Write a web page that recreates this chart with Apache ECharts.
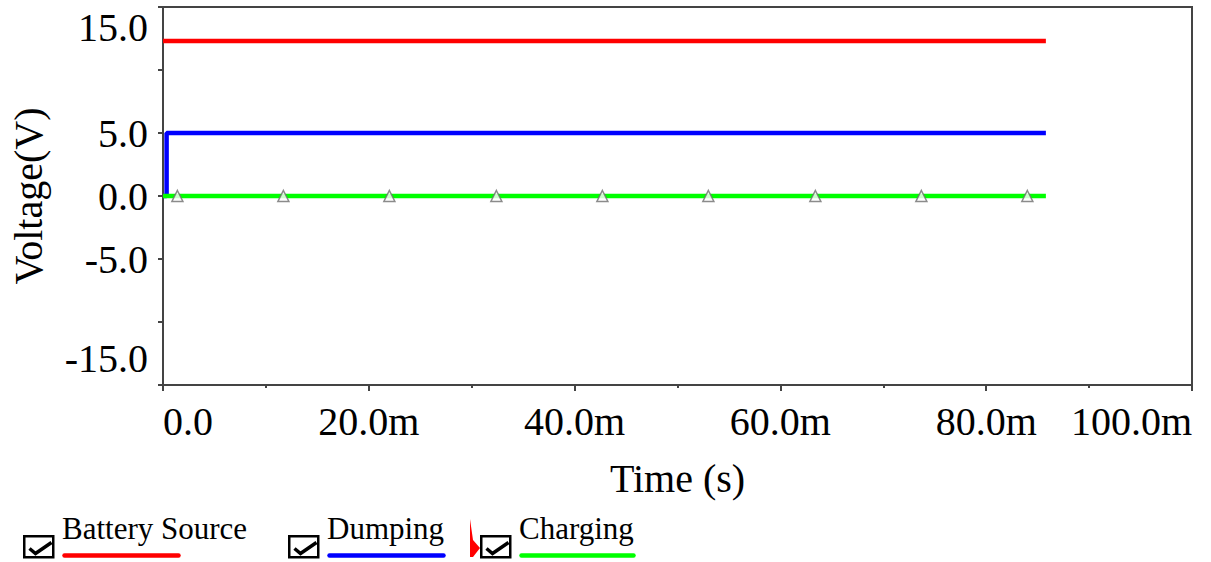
<!DOCTYPE html>
<html>
<head>
<meta charset="utf-8">
<title>Voltage vs Time</title>
<script src="https://cdn.jsdelivr.net/npm/echarts@6/dist/echarts.min.js"></script>
<style>
    html, body { margin: 0; padding: 0; background: #fff; }
    #chart { width: 1211px; height: 562px; }
</style>
</head>
<body>
<div id="chart"></div>
<script>
    // time in ms (axis labels carry the "m" suffix)
    var seriesNames = ['Battery Source', 'Dumping', 'Charging'];
    var seriesColors = ['#ff0000', '#0000ff', '#00ff00'];
    var batteryData = [[0, 12.3], [85.8, 12.3]];
    var dumpingData = [[0, 0], [0.35, 0], [0.35, 5.0], [85.8, 5.0]];
    var chargingData = [[0, 0], [85.8, 0]];
    // grey triangle markers sitting on the charging trace
    var markerTimes = [1.4, 11.7, 22.0, 32.4, 42.7, 53.0, 63.4, 73.7, 84.0];
    var markerValues = [0, 0, 0, 0, 0, 0, 0, 0, 0];
    var yHiddenLabels = [10, -10];

    var serif = '"Liberation Serif", "Times New Roman", serif';
    var chart = echarts.init(document.getElementById('chart'), null, {renderer: 'svg'});

    var markerData = markerTimes.map(function (t, i) { return [t, markerValues[i]]; });
    var lineData = [batteryData, dumpingData, chargingData];

    var series = seriesNames.map(function (name, i) {
        return {
            name: name,
            type: 'line',
            data: lineData[i],
            showSymbol: false,
            symbol: 'none',
            animation: false,
            lineStyle: {color: seriesColors[i], width: 4.5},
            itemStyle: {color: seriesColors[i]},
            z: 2 + i
        };
    });
    series.push({
        name: 'markers',
        type: 'scatter',
        data: markerData,
        symbol: 'triangle',
        symbolSize: [11, 11],
        animation: false,
        itemStyle: {color: '#ffffff', borderColor: '#6e6e6e', borderWidth: 1.5},
        z: 6
    });

    // legend: checkbox, name, coloured underline
    var legendX = [23, 288, 480];
    var underlineW = [114, 114, 112];
    var graphics = [];
    seriesNames.forEach(function (name, i) {
        var x = legendX[i];
        graphics.push({
            type: 'rect', left: x, top: 535,
            shape: {width: 29, height: 21},
            style: {fill: '#fff', stroke: '#000', lineWidth: 2.5}
        });
        graphics.push({
            type: 'polyline', left: x + 4, top: 540,
            shape: {points: [[0, 7], [6, 12], [22, 1]]},
            style: {fill: null, stroke: '#000', lineWidth: 3.5}
        });
        graphics.push({
            type: 'text', left: x + 39, top: 513,
            style: {text: name, fill: '#000', fontFamily: serif, fontSize: 31}
        });
        graphics.push({
            type: 'line', left: x + 39, top: 553,
            shape: {x1: 0, y1: 0, x2: underlineW[i], y2: 0},
            style: {stroke: seriesColors[i], lineWidth: 4.5, lineCap: 'round'}
        });
    });
    // small red sliver before the third checkbox
    graphics.push({
        type: 'polygon',
        shape: {points: [[470, 519], [473, 540], [480, 548], [473, 557], [470, 557]]},
        style: {fill: '#ff0000'}
    });

    var option = {
        backgroundColor: '#fff',
        animation: false,
        grid: {
            left: 163, top: 7, width: 1029, height: 378,
            show: true, borderColor: '#444', borderWidth: 2, backgroundColor: 'transparent'
        },
        xAxis: {
            type: 'value',
            min: 0, max: 100, interval: 20,
            name: 'Time (s)',
            nameLocation: 'middle',
            nameGap: 73,
            nameTextStyle: {fontFamily: serif, fontSize: 40, color: '#000'},
            axisLine: {show: true, onZero: false, lineStyle: {color: '#444', width: 2}},
            axisTick: {show: true, length: 6, lineStyle: {color: '#444', width: 2}},
            minorTick: {show: true, splitNumber: 2, length: 3, lineStyle: {color: '#444', width: 2}},
            splitLine: {show: false},
            axisLabel: {
                margin: 16,
                fontFamily: serif, fontSize: 40, color: '#000',
                alignMinLabel: 'left', alignMaxLabel: 'right',
                formatter: function (v) { return v === 0 ? '0.0' : v.toFixed(1) + 'm'; }
            }
        },
        yAxis: {
            type: 'value',
            min: -15, max: 15, interval: 5,
            name: 'Voltage(V)',
            nameLocation: 'middle',
            nameGap: 115,
            nameTextStyle: {fontFamily: serif, fontSize: 40, color: '#000'},
            axisLine: {show: true, onZero: false, lineStyle: {color: '#444', width: 2}},
            axisTick: {show: true, length: 5, lineStyle: {color: '#444', width: 2}},
            splitLine: {show: false},
            axisLabel: {
                margin: 15,
                fontFamily: serif, fontSize: 40, color: '#000',
                verticalAlignMinLabel: 'bottom', verticalAlignMaxLabel: 'top',
                formatter: function (v) {
                    if (yHiddenLabels.indexOf(v) >= 0) return '';
                    return v === -15 ? '{lo|' + v.toFixed(1) + '}' : v.toFixed(1);
                },
                rich: {
                    lo: {fontFamily: serif, fontSize: 40, color: '#000', padding: [0, 0, 7, 0]}
                }
            }
        },
        series: series,
        graphic: graphics
    };
    chart.setOption(option);
</script>
</body>
</html>
